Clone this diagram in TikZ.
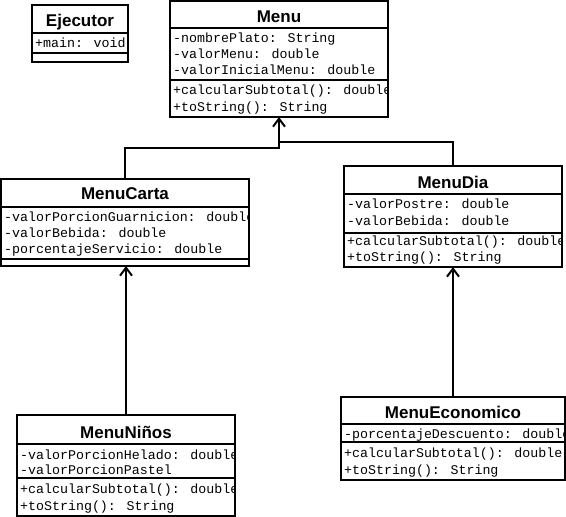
\documentclass[tikz,border=0pt]{standalone}
\usepackage{fontspec}
\setmainfont{Liberation Sans}
\newfontfamily\monofont{Liberation Mono}
\usetikzlibrary{arrows.meta}
\tikzset{
 umlbox/.style={draw, line width=2pt, inner sep=0pt, outer sep=0pt, anchor=north west},
 umltitle/.style={font=\bfseries\fontsize{17}{19}\selectfont, anchor=base, inner sep=0pt},
 member/.style={font=\monofont\fontsize{13.3}{16}\selectfont, anchor=base west, inner sep=0pt},
 sepline/.style={line width=2pt},
 inherit/.style={line width=2pt, -{Straight Barb[length=8pt,width=12pt]}},
 link/.style={line width=2pt}
}
\begin{document}
\begin{tikzpicture}[x=1pt,y=-1pt]
\useasboundingbox (0,0) rectangle (566,517);

% ---------- Ejecutor ----------
\begin{scope}
\clip (32,5) rectangle (128,62);
\node[umltitle] (ejt) at (80,26) {Ejecutor};
\node[member] (eja1) at (35,47.5) {+main: void};
\end{scope}
\node[umlbox, minimum width=96pt, minimum height=57pt] (ejecutor) at (32,5) {};
\draw[sepline] (32,33) -- (128,33);
\draw[sepline] (32,53) -- (128,53);

% ---------- Menu ----------
\begin{scope}
\clip (170,1) rectangle (388,117);
\node[umltitle] (mt) at (279,22) {Menu};
\node[member] (ma1) at (173,42.5) {-nombrePlato: String};
\node[member] (ma2) at (173,58.5) {-valorMenu: double};
\node[member] (ma3) at (173,74.5) {-valorInicialMenu: double};
\node[member] (mm1) at (173,94.5) {+calcularSubtotal(): double};
\node[member] (mm2) at (173,111) {+toString(): String};
\end{scope}
\node[umlbox, minimum width=218pt, minimum height=116pt] (menu) at (170,1) {};
\draw[sepline] (170,28) -- (388,28);
\draw[sepline] (170,80) -- (388,80);

% ---------- MenuCarta ----------
\begin{scope}
\clip (1,179) rectangle (249,266);
\node[umltitle] (ct) at (125,199) {MenuCarta};
\node[member] (ca1) at (4,221.5) {-valorPorcionGuarnicion: double};
\node[member] (ca2) at (4,237) {-valorBebida: double};
\node[member] (ca3) at (4,253) {-porcentajeServicio: double};
\end{scope}
\node[umlbox, minimum width=248pt, minimum height=87pt] (carta) at (1,179) {};
\draw[sepline] (1,207) -- (249,207);
\draw[sepline] (1,259) -- (249,259);

% ---------- MenuDia ----------
\begin{scope}
\clip (344,166) rectangle (562,267);
\node[umltitle] (dt) at (453,188) {MenuDia};
\node[member] (da1) at (347,208) {-valorPostre: double};
\node[member] (da2) at (347,225) {-valorBebida: double};
\node[member] (dm1) at (347,245) {+calcularSubtotal(): double};
\node[member] (dm2) at (347,261.5) {+toString(): String};
\end{scope}
\node[umlbox, minimum width=218pt, minimum height=101pt] (dia) at (344,166) {};
\draw[sepline] (344,194) -- (562,194);
\draw[sepline] (344,233) -- (562,233);

% ---------- MenuNiños ----------
\begin{scope}
\clip (17,415) rectangle (235,516);
\node[umltitle] (nt) at (126,438) {MenuNiños};
\node[member] (na1) at (20,459.5) {-valorPorcionHelado: double};
\node[member] (na2) at (20,474.5) {-valorPorcionPastel};
\node[member] (nm1) at (20,493) {+calcularSubtotal(): double};
\node[member] (nm2) at (20,510) {+toString(): String};
\end{scope}
\node[umlbox, minimum width=218pt, minimum height=101pt] (ninos) at (17,415) {};
\draw[sepline] (17,444) -- (235,444);
\draw[sepline] (17,478) -- (235,478);

% ---------- MenuEconomico ----------
\begin{scope}
\clip (341,397) rectangle (565,480);
\node[umltitle] (et) at (453,418) {MenuEconomico};
\node[member] (ea1) at (344,438.5) {-porcentajeDescuento: double};
\node[member] (em1) at (344,457.5) {+calcularSubtotal(): double};
\node[member] (em2) at (344,474.5) {+toString(): String};
\end{scope}
\node[umlbox, minimum width=224pt, minimum height=83pt] (econ) at (341,397) {};
\draw[sepline] (341,424) -- (565,424);
\draw[sepline] (341,442) -- (565,442);

% ---------- connectors ----------
\coordinate (jc) at (279,148);
\coordinate (jd) at (279,142);
\draw[inherit] (carta.north) |- (jc) -- (menu.south);
\draw[link] (dia.north) |- (jd);
\draw[inherit] (ninos.north) -- (ninos.north |- carta.south);
\draw[inherit] (econ.north) -- (econ.north |- dia.south);
\end{tikzpicture}
\end{document}
